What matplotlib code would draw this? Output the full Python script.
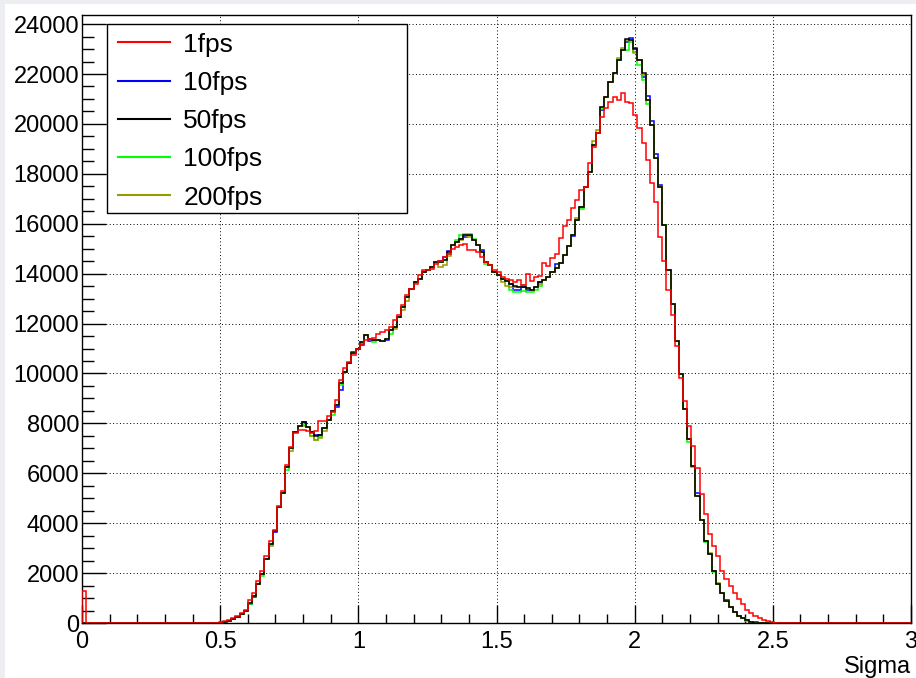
import numpy as np
import matplotlib
matplotlib.use("Agg")
import matplotlib.pyplot as plt
from matplotlib.patches import Rectangle
from matplotlib.ticker import MultipleLocator, FuncFormatter

plt.rcParams['font.family'] = ['Liberation Sans', 'DejaVu Sans']

# histogram: 200 bins from 0 to 3, counts listed from bin 33 (x = 0.495) on
n_bins = 200
x_min, x_max = 0.0, 3.0
first_bin = 33

labels = ["1fps", "10fps", "50fps", "100fps", "200fps"]
colors = ["#ff0000", "#0000ff", "#000000", "#00ff00", "#999900"]

red_bin0 = 1290  # only the 1fps run has entries in the very first bin

fps1 = [25, 65, 130, 200, 270, 400, 530, 930, 1200, 1670,
        2070, 2670, 3270, 3730, 4670, 5290, 6330, 7070, 7600, 7730,
        7730, 7690, 7600, 7700, 8100, 8100, 8300, 8470, 8930, 9730,
        10200, 10470, 10730, 11000, 11200, 11330, 11400, 11440, 11600, 11670,
        11730, 11870, 12130, 12330, 12730, 13130, 13400, 13600, 13930, 14130,
        14160, 14200, 14400, 14500, 14670, 14800, 15000, 15070, 15130, 15200,
        14960, 14930, 14870, 14670, 14470, 14330, 14130, 14070, 13870, 13800,
        13730, 13670, 13730, 13530, 14000, 13700, 13850, 13900, 14430, 14300,
        14630, 14780, 15430, 15890, 16160, 16630, 16960, 17360, 17490, 18430,
        19090, 19630, 20290, 20630, 20890, 21090, 20960, 21230, 20890, 20830,
        20360, 19830, 19230, 18560, 17630, 16890, 15480, 14500, 13360, 12360,
        11100, 9830, 8900, 7900, 7100, 6230, 5160, 4370, 3570, 3100,
        2670, 2100, 1770, 1500, 1220, 950, 750, 540, 410, 300,
        200, 140, 70, 40, 15]

fps10 = [15, 40, 100, 170, 240, 370, 480, 760, 1050, 1550,
         1950, 2550, 3150, 3650, 4650, 5200, 6250, 7000, 7650, 7900,
         8070, 7850, 7650, 7550, 7550, 7800, 8150, 8500, 8650, 9350,
         10070, 10400, 10850, 11000, 11150, 11530, 11300, 11330, 11330, 11300,
         11350, 11730, 11870, 12270, 12670, 13070, 13400, 13670, 13800, 14070,
         14130, 14270, 14470, 14500, 14650, 14900, 15130, 15270, 15400, 15480,
         15530, 15330, 15130, 14950, 14470, 14330, 14070, 13930, 13800, 13700,
         13600, 13330, 13330, 13470, 13350, 13350, 13480, 13680, 13750, 13880,
         14050, 14400, 14430, 14760, 15090, 15500, 16160, 16690, 17490, 18090,
         19160, 19630, 20550, 21090, 21690, 22030, 22560, 22960, 23300, 23430,
         23050, 22560, 21900, 21100, 20100, 18800, 17550, 15950, 14160, 12800,
         11290, 9960, 8560, 7360, 6300, 5200, 4130, 3300, 2750, 2100,
         1580, 1200, 920, 645, 440, 300, 190, 120, 50, 30,
         15, 0, 0, 0, 0]

fps50 = [15, 40, 100, 170, 240, 370, 480, 800, 1100, 1550,
         1950, 2550, 3150, 3700, 4650, 5200, 6250, 7000, 7650, 7900,
         8070, 7850, 7650, 7480, 7550, 7800, 8150, 8500, 8750, 9600,
         10070, 10400, 10800, 11000, 11270, 11530, 11400, 11330, 11330, 11300,
         11400, 11730, 11870, 12270, 12670, 13070, 13400, 13670, 13800, 14070,
         14130, 14270, 14470, 14450, 14530, 14870, 15130, 15270, 15400, 15530,
         15530, 15330, 15130, 14870, 14470, 14330, 14070, 13930, 13800, 13700,
         13600, 13500, 13450, 13470, 13420, 13350, 13480, 13680, 13750, 13880,
         14050, 14220, 14430, 14760, 15090, 15560, 16160, 16690, 17490, 18090,
         19160, 19630, 20690, 21090, 21690, 22030, 22560, 22960, 23390, 23360,
         22990, 22560, 22030, 20960, 19960, 18620, 17460, 15950, 14160, 12800,
         11290, 9960, 8560, 7360, 6300, 5100, 4130, 3300, 2750, 2100,
         1580, 1200, 890, 645, 440, 300, 190, 105, 50, 20,
         5, 0, 0, 0, 0]

fps100 = [15, 40, 100, 170, 240, 370, 480, 750, 1100, 1550,
          1900, 2550, 3150, 3700, 4650, 5200, 6150, 7000, 7650, 7900,
          7950, 7850, 7500, 7350, 7450, 7800, 8150, 8350, 8750, 9550,
          10070, 10400, 10800, 11000, 11270, 11530, 11400, 11250, 11330, 11300,
          11400, 11600, 11870, 12270, 12670, 13070, 13400, 13670, 13800, 14070,
          14130, 14270, 14470, 14450, 14530, 14800, 15130, 15350, 15530, 15600,
          15580, 15400, 15130, 14870, 14400, 14330, 14070, 13930, 13800, 13700,
          13350, 13270, 13270, 13300, 13270, 13280, 13350, 13500, 13750, 13880,
          14050, 14220, 14430, 14760, 15090, 15560, 16160, 16600, 17490, 18090,
          19160, 19630, 20600, 21090, 21690, 22030, 22560, 22960, 22960, 23300,
          22850, 22350, 21760, 20800, 19960, 18620, 17460, 15950, 14160, 12800,
          11290, 9960, 8560, 7250, 6300, 5100, 4130, 3250, 2750, 2050,
          1580, 1200, 890, 645, 440, 300, 190, 95, 50, 20,
          5, 0, 0, 0, 0]

fps200 = [15, 40, 100, 170, 240, 370, 480, 800, 1100, 1550,
          1950, 2550, 3100, 3700, 4650, 5200, 6250, 6900, 7650, 7900,
          7900, 7850, 7500, 7330, 7400, 7700, 8150, 8500, 8750, 9600,
          10070, 10400, 10800, 11000, 11270, 11530, 11400, 11330, 11330, 11300,
          11400, 11730, 11800, 12270, 12550, 12900, 13400, 13670, 13800, 14070,
          14130, 14270, 14470, 14270, 14350, 14700, 15130, 15270, 15350, 15530,
          15450, 15330, 15130, 14870, 14470, 14330, 14070, 13930, 13650, 13500,
          13450, 13450, 13450, 13530, 13420, 13350, 13480, 13600, 13750, 13880,
          14050, 14220, 14430, 14760, 15090, 15560, 16250, 16690, 17490, 18090,
          19300, 19750, 20690, 21090, 21690, 22030, 22650, 23050, 23350, 23360,
          22900, 22560, 21950, 20960, 19960, 18620, 17460, 15950, 14160, 12800,
          11290, 9960, 8560, 7360, 6250, 5100, 4130, 3300, 2800, 2100,
          1620, 1200, 890, 645, 440, 300, 190, 105, 50, 20,
          5, 0, 0, 0, 0]

series = [fps1, fps10, fps50, fps100, fps200]


def full_hist(vals):
    h = np.zeros(n_bins)
    h[first_bin:first_bin + len(vals)] = vals
    return h


edges = np.linspace(x_min, x_max, n_bins + 1)

fig = plt.figure(figsize=(9.16, 6.78), dpi=100)
fig.patch.set_facecolor("#eceef1")
bg = Rectangle((5 / 916, 0), 1, 1 - 4 / 678, transform=fig.transFigure,
               facecolor="white", edgecolor="none", zorder=-10)
fig.patches.append(bg)

ax = fig.add_axes([82 / 916, 1 - 623 / 678, 829 / 916, 608 / 678])
ax.set_zorder(5)

hists = [full_hist(v) for v in series]
hists[0][0] = red_bin0

# draw order: colored runs first, black over them, 1fps on top
order = [1, 3, 4, 2, 0]
for k in order:
    ax.stairs(hists[k], edges, color=colors[k], lw=1.1, label=labels[k], baseline=0,
              zorder=3 + order.index(k))

ax.set_xlim(x_min, x_max)
ax.set_ylim(0, 24365)

ax.xaxis.set_major_locator(MultipleLocator(0.5))
ax.xaxis.set_minor_locator(MultipleLocator(0.1))
ax.yaxis.set_major_locator(MultipleLocator(2000))
ax.yaxis.set_minor_locator(MultipleLocator(500))
ax.xaxis.set_major_formatter(FuncFormatter(lambda v, p: f"{v:g}"))

ax.tick_params(axis="both", which="both", direction="in", labelsize=17, colors="black")
ax.tick_params(axis="x", which="major", length=13, width=1, pad=6)
ax.tick_params(axis="x", which="minor", length=6.5, width=1)
ax.tick_params(axis="y", which="major", length=17, width=1, pad=2)
ax.tick_params(axis="y", which="minor", length=8.6, width=1)

ax.grid(True, which="major", color="black", linestyle=(0, (1, 2.5)), linewidth=0.7)
ax.set_axisbelow(True)
for s in ax.spines.values():
    s.set_linewidth(1.0)

ax.set_xlabel("Sigma", loc="right", fontsize=17, labelpad=2)

# legend box as in the ROOT canvas
ax.add_patch(Rectangle((0.0298, 0.6743), 0.3619, 0.3104, transform=ax.transAxes,
                       facecolor="white", edgecolor="black", lw=1.0, zorder=9))
handles, lbls = ax.get_legend_handles_labels()
hmap = dict(zip(lbls, handles))
leg = ax.legend([hmap[l] for l in labels], labels, loc="upper left",
                bbox_to_anchor=(0.0434, 0.9712), frameon=False, fontsize=19,
                borderpad=0, borderaxespad=0, handlelength=1.97, handletextpad=0.5,
                labelspacing=0.54)
leg.set_zorder(10)
for line in leg.get_lines():
    line.set_linewidth(1.5)

fig.savefig("out.png", dpi=100, facecolor=fig.get_facecolor())
